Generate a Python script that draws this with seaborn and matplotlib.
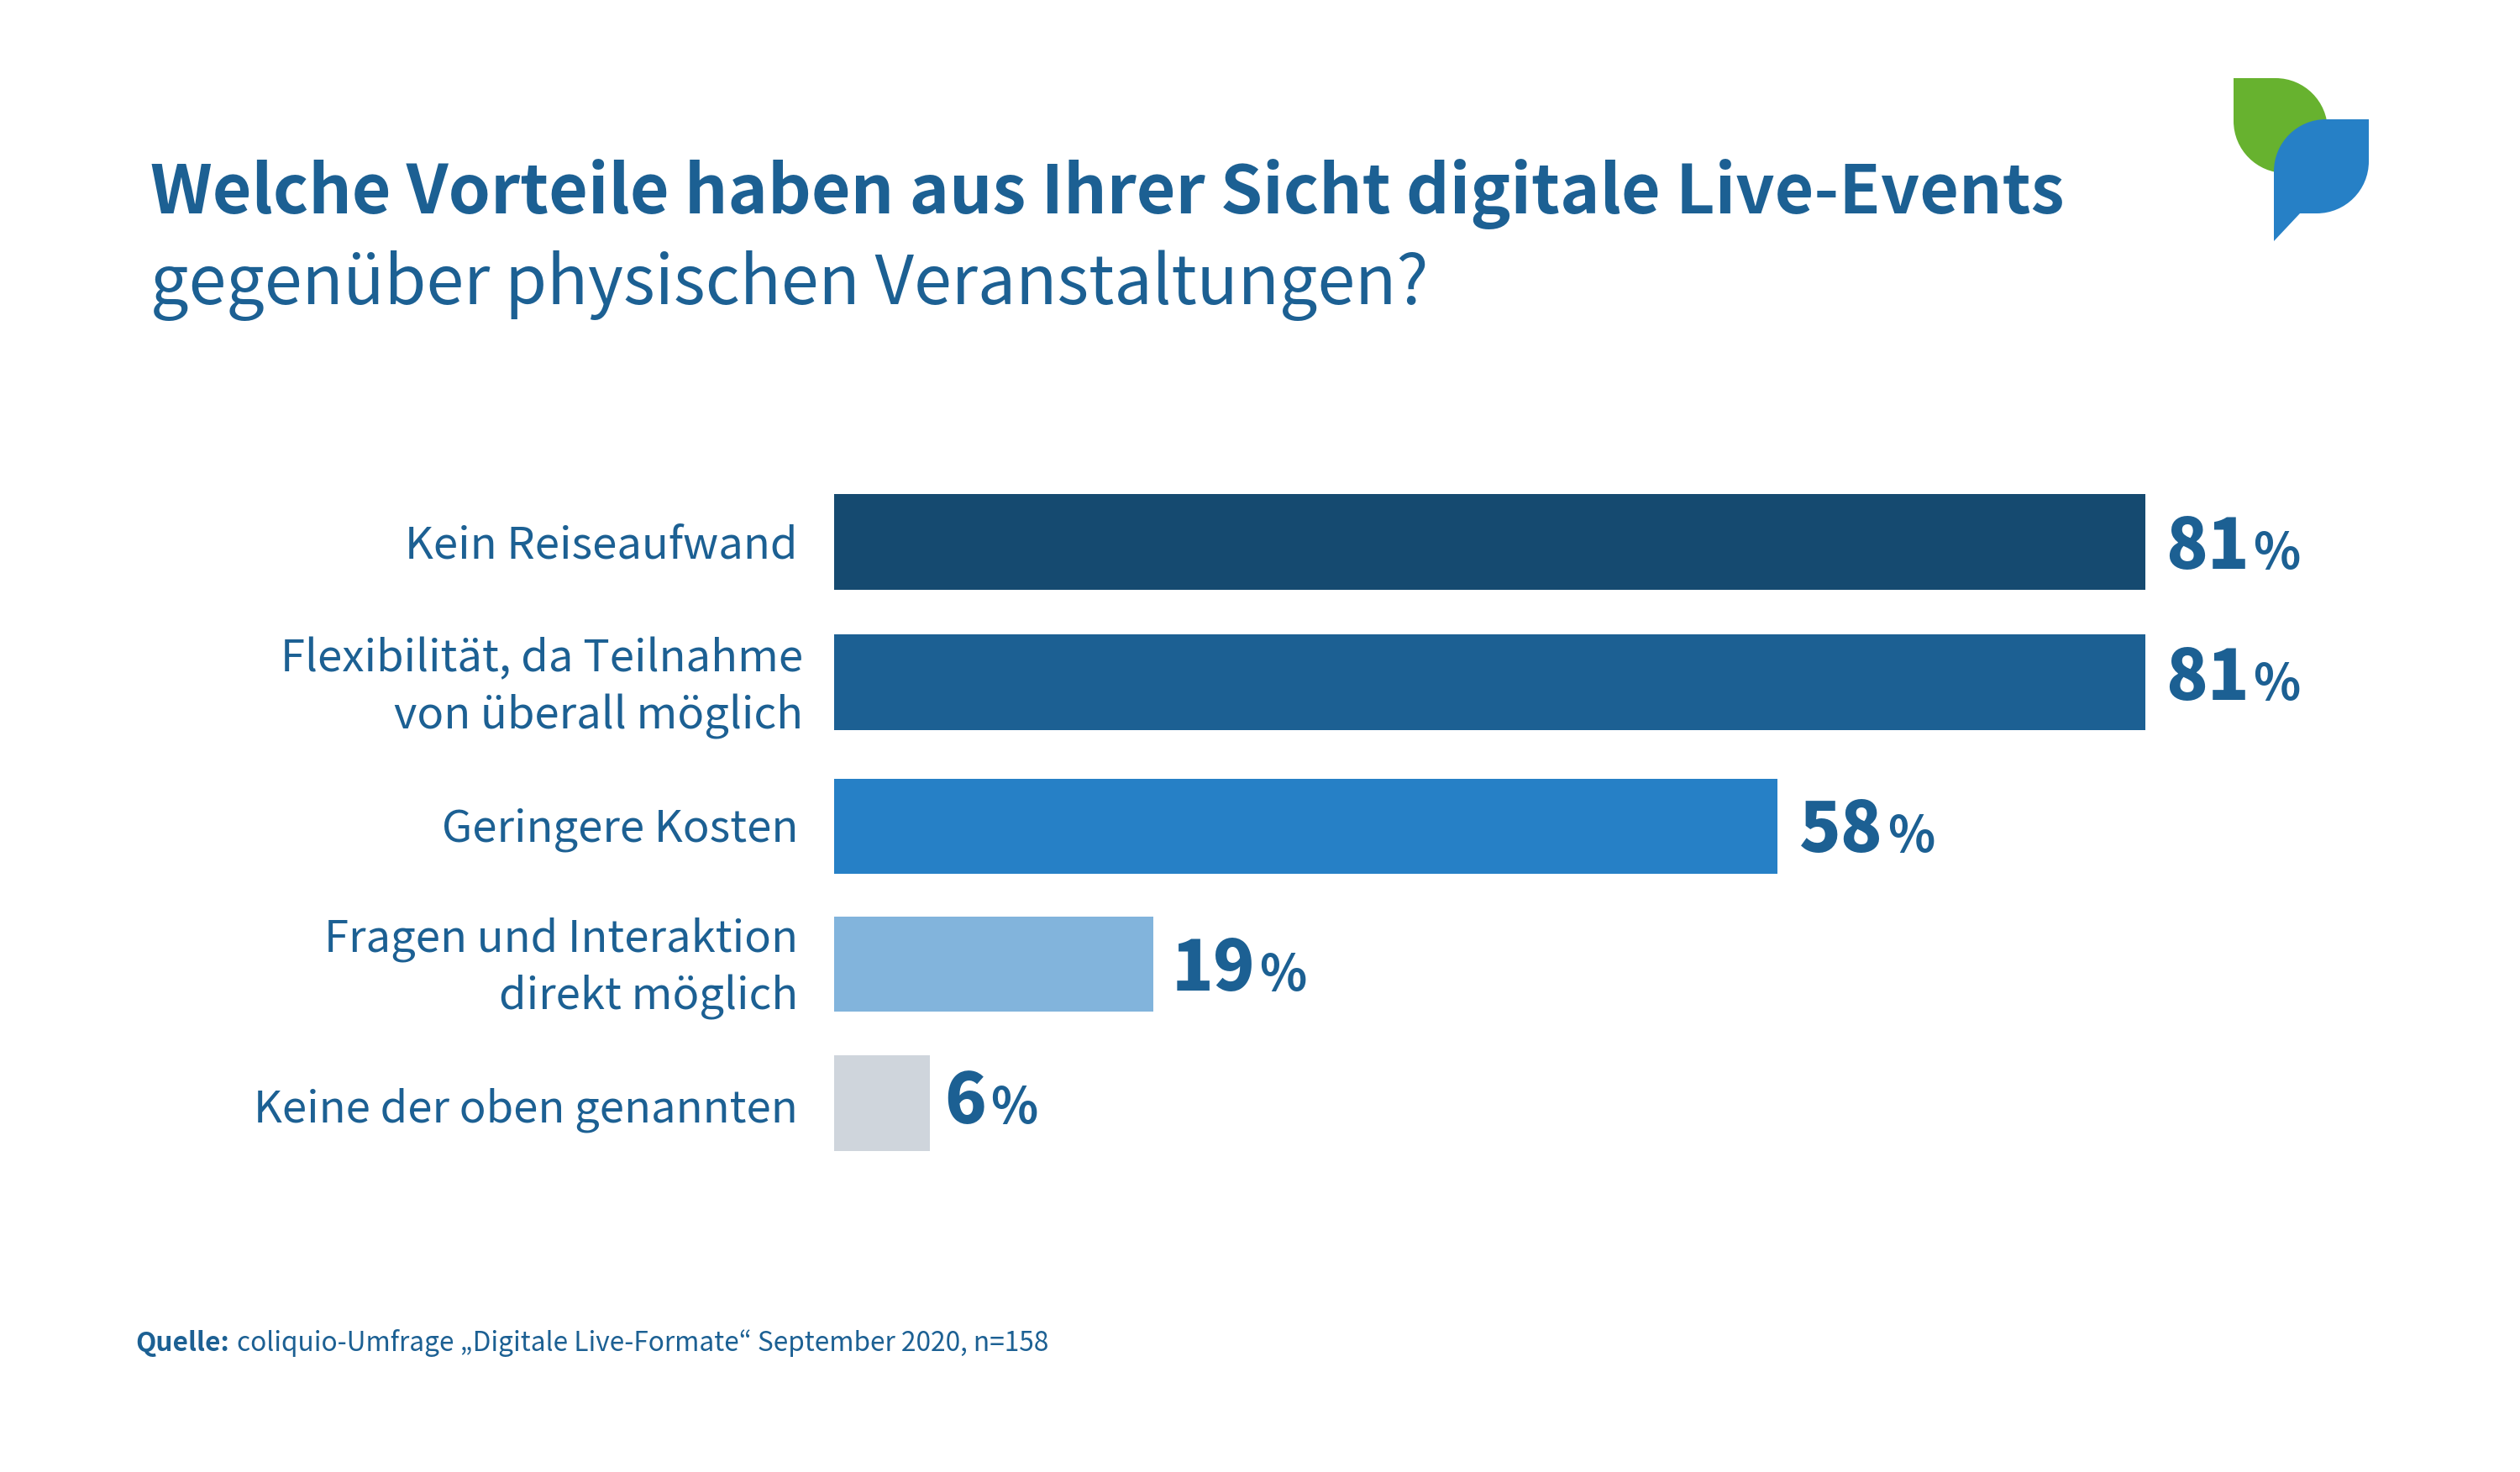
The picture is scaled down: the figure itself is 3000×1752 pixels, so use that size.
import matplotlib
matplotlib.use('Agg')
import matplotlib.pyplot as plt
from matplotlib.path import Path
from matplotlib.patches import PathPatch
from matplotlib.transforms import ScaledTranslation
import pandas as pd
import seaborn as sns

W, H = 3000, 1752
BLUE = '#1c6093'

categories = ['Kein Reiseaufwand', 'Flexibilität, da Teilnahme\nvon überall möglich',
              'Geringere Kosten', 'Fragen und Interaktion\ndirekt möglich',
              'Keine der oben genannten']
# gemessene Balkenlaengen, die Beschriftung sind die gerundeten Werte
values = [81.0, 81.0, 58.3, 19.7, 5.9]
value_labels = ['81', '81', '58', '19', '6']
bar_colors = ['#154a70', '#1c6093', '#2680c6', '#82b4dc', '#cfd5dc']

# Feinkorrektur je Zeile in Pixeln
row_nudge = [0, 0, 4.5, 1.5, 0]
label_dx = [24, 24, 26, 22, 18]
label_dy = [-32, -21, -35, -33, -24]
tick_dx = [0, 6, 0, 0, 0]
tick_dy = [1, 7, -2, 7, -2]

sns.set_theme(style='white')
plt.rcParams['font.family'] = ['Noto Sans CJK JP', 'DejaVu Sans']

fig = plt.figure(figsize=(W / 200, H / 200), dpi=200, facecolor='white')

# Balken: 993px = 0 %, 19.27px je Prozent, Zeilenabstand 167px
ax = fig.add_axes([993 / W, (H - 1396.5) / H, 1927 / W, 835 / H])
df = pd.DataFrame({'kategorie': categories, 'wert': values})
sns.barplot(data=df, x='wert', y='kategorie', hue='kategorie', palette=bar_colors,
            order=categories, hue_order=categories, dodge=False, legend=False,
            width=0.677, saturation=1, linewidth=0, ax=ax)
ax.set_xlim(0, 100)
ax.set_xlabel('')
ax.set_ylabel('')
ax.set_xticks([])
sns.despine(ax=ax, left=True, bottom=True)
ax.tick_params(axis='y', length=0, pad=15.5)

for container, dy in zip(ax.containers, row_nudge):
    for bar in container:
        bar.set_y(bar.get_y() + dy / 167)

for i, lab in enumerate(ax.get_yticklabels()):
    lab.set_color(BLUE)
    lab.set_fontsize(18.95)
    lab.set_linespacing(1.35)
    lab.set_transform(lab.get_transform() + ScaledTranslation(tick_dx[i] / 200, tick_dy[i] / 200, fig.dpi_scale_trans))

for i, (v, txt) in enumerate(zip(values, value_labels)):
    t = ax.annotate(txt, (v, i), xytext=(label_dx[i], label_dy[i]), textcoords='offset pixels',
                    color=BLUE, fontsize=29.5, fontweight='black', va='baseline', ha='left')
    fig.canvas.draw()
    box = t.get_window_extent()
    x_off = label_dx[i] + box.width + 5
    ax.annotate('%', (v, i), xytext=(x_off, label_dy[i]), textcoords='offset pixels',
                color=BLUE, fontsize=21, fontweight='bold', va='baseline', ha='left')

# Ebene in Pixelkoordinaten fuer Titel, Quelle und Logo
over = fig.add_axes([0, 0, 1, 1], facecolor='none')
over.set_xlim(0, W)
over.set_ylim(H, 0)
over.axis('off')

over.text(179, 254, 'Welche Vorteile haben aus Ihrer Sicht digitale Live-Events',
          color=BLUE, fontsize=29, fontweight='bold', va='baseline')
over.text(179, 362, 'gegenüber physischen Veranstaltungen?', color=BLUE, fontsize=29, va='baseline')

over.text(161, 1608, 'Quelle:', color=BLUE, fontsize=11.4, fontweight='bold', va='baseline')
over.text(282, 1608, 'coliquio-Umfrage „Digitale Live-Formate“ September 2020, n=158',
          color=BLUE, fontsize=11.4, va='baseline')


def leaf(x0, y0, x1, y1, r):
    """Blattform: oben rechts und unten links abgerundet"""
    k = 0.5523 * r
    verts = [(x0, y0), (x1 - r, y0), (x1 - r + k, y0), (x1, y0 + r - k), (x1, y0 + r),
             (x1, y1), (x0 + r, y1), (x0 + r - k, y1), (x0, y1 - r + k), (x0, y1 - r), (x0, y0)]
    codes = [Path.MOVETO, Path.LINETO, Path.CURVE4, Path.CURVE4, Path.CURVE4,
             Path.LINETO, Path.LINETO, Path.CURVE4, Path.CURVE4, Path.CURVE4, Path.CLOSEPOLY]
    return Path(verts, codes)


def bubble(x0, y0, x1, y1, r, tip_y, tail_x):
    """Umgekehrte Blattform mit Spitze unten links"""
    k = 0.5523 * r
    verts = [(x0 + r, y0), (x1, y0), (x1, y1 - r), (x1, y1 - r + k), (x1 - r + k, y1), (x1 - r, y1),
             (tail_x, y1), (x0, tip_y), (x0, y0 + r), (x0, y0 + r - k), (x0 + r - k, y0), (x0 + r, y0)]
    codes = [Path.MOVETO, Path.LINETO, Path.LINETO, Path.CURVE4, Path.CURVE4, Path.CURVE4,
             Path.LINETO, Path.LINETO, Path.LINETO, Path.CURVE4, Path.CURVE4, Path.CLOSEPOLY]
    return Path(verts, codes)


over.add_patch(PathPatch(leaf(2659, 93, 2771, 206, 62), facecolor='#67b22f', edgecolor='none'))
over.add_patch(PathPatch(bubble(2707, 142, 2820, 254, 62, 287, 2738), facecolor='#2680c6', edgecolor='none'))

fig.savefig('out.png', dpi=200, facecolor='white')
